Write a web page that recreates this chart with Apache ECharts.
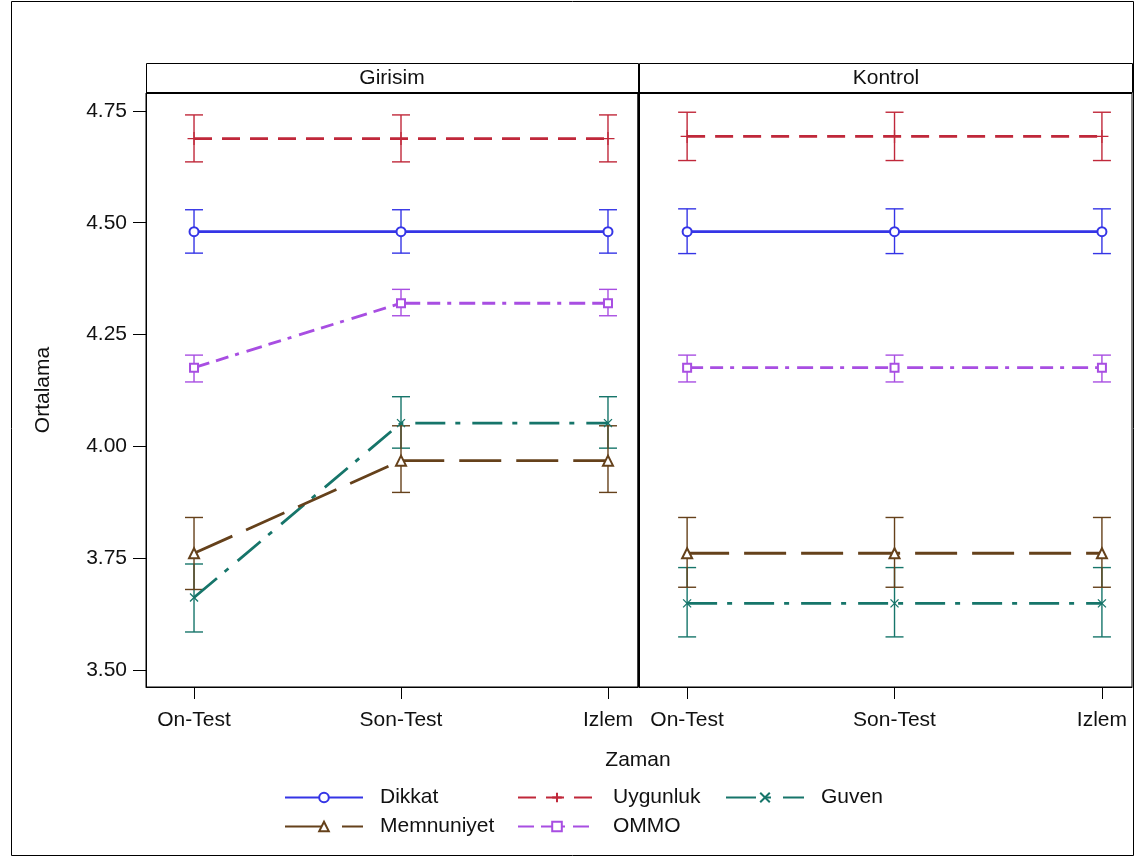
<!DOCTYPE html>
<html>
<head>
<meta charset="utf-8">
<script src="https://cdn.jsdelivr.net/npm/echarts@6/dist/echarts.min.js"></script>
<style>
  html, body { margin: 0; padding: 0; background: #fff; }
  #main { width: 1136px; height: 858px; }
</style>
</head>
<body>
<div id="main"></div>
<script>
var categories = ['On-Test', 'Son-Test', 'Izlem'];
var panels = ['Girisim', 'Kontrol'];
var groups = ['Dikkat', 'Uygunluk', 'Guven', 'Memnuniyet', 'OMMO'];
var yTicks = [3.5, 3.75, 4.0, 4.25, 4.5, 4.75];

// rows follow groups order
var girisimMean = [
    [4.480, 4.480, 4.480],
    [4.688, 4.688, 4.688],
    [3.662, 4.052, 4.052],
    [3.761, 3.968, 3.968],
    [4.176, 4.320, 4.320]
];
var girisimLower = [
    [4.432, 4.432, 4.432],
    [4.636, 4.636, 4.636],
    [3.585, 3.996, 3.996],
    [3.680, 3.897, 3.897],
    [4.144, 4.292, 4.292]
];
var girisimUpper = [
    [4.529, 4.529, 4.529],
    [4.741, 4.741, 4.741],
    [3.737, 4.111, 4.111],
    [3.841, 4.046, 4.046],
    [4.204, 4.351, 4.351]
];
var kontrolMean = [
    [4.480, 4.480, 4.480],
    [4.693, 4.693, 4.693],
    [3.649, 3.649, 3.649],
    [3.761, 3.761, 3.761],
    [4.176, 4.176, 4.176]
];
var kontrolLower = [
    [4.431, 4.431, 4.431],
    [4.639, 4.639, 4.639],
    [3.574, 3.574, 3.574],
    [3.685, 3.685, 3.685],
    [4.144, 4.144, 4.144]
];
var kontrolUpper = [
    [4.531, 4.531, 4.531],
    [4.747, 4.747, 4.747],
    [3.729, 3.729, 3.729],
    [3.841, 3.841, 3.841],
    [4.204, 4.204, 4.204]
];

var colors = ['#3535e6', '#c0283a', '#16756a', '#65411b', '#a84ee2'];
var dashes = ['solid', [18, 10], [30, 10, 5, 12], [42, 15], [16, 7, 13, 7, 4, 8]];
var symbols = [
    'emptyCircle',
    'path://M0,5L10,5M5,0L5,10',
    'path://M0,0L10,10M10,0L0,10',
    'emptyTriangle',
    'emptyRect'
];
var symbolSizes = [9, 13, 8, 10, 8];

var FONT = "'Liberation Sans', Arial, sans-serif";

var chartDom = document.getElementById('main');
var myChart = echarts.init(chartDom);
var option;

var means = [girisimMean, kontrolMean];
var lowers = [girisimLower, kontrolLower];
var uppers = [girisimUpper, kontrolUpper];

var lineSeries = [];
var barSeries = [];
panels.forEach(function (p, pi) {
    groups.forEach(function (g, gi) {
        lineSeries.push({
            name: g,
            type: 'line',
            xAxisIndex: pi,
            yAxisIndex: pi,
            z: 3,
            data: means[pi][gi].map(function (v, i) { return [i, v]; }),
            symbol: symbols[gi],
            symbolSize: symbolSizes[gi],
            showAllSymbol: true,
            lineStyle: { color: colors[gi], width: 2.8, type: dashes[gi] },
            itemStyle: { color: colors[gi], borderColor: colors[gi], borderWidth: 1.3 },
            emphasis: { disabled: true },
            animation: false
        });
        barSeries.push({
            name: g,
            type: 'custom',
            xAxisIndex: pi,
            yAxisIndex: pi,
            z: 2,
            data: means[pi][gi].map(function (v, i) { return [i, lowers[pi][gi][i], uppers[pi][gi][i]]; }),
            encode: { x: 0, y: [1, 2] },
            renderItem: function (params, api) {
                var lo = api.coord([api.value(0), api.value(1)]);
                var hi = api.coord([api.value(0), api.value(2)]);
                var w = 9;
                var st = { stroke: colors[gi], lineWidth: 1.4 };
                return {
                    type: 'group',
                    children: [
                        { type: 'line', shape: { x1: lo[0], y1: lo[1], x2: hi[0], y2: hi[1] }, style: st },
                        { type: 'line', shape: { x1: lo[0] - w, y1: lo[1], x2: lo[0] + w, y2: lo[1] }, style: st },
                        { type: 'line', shape: { x1: hi[0] - w, y1: hi[1], x2: hi[0] + w, y2: hi[1] }, style: st }
                    ]
                };
            },
            animation: false
        });
    });
});

function xAxisFor(i) {
    return {
        type: 'value',
        gridIndex: i,
        min: -0.232,
        max: 2.145,
        splitLine: { show: false },
        axisLine: { show: true, onZero: false, lineStyle: { color: '#000', width: 1 } },
        axisTick: { show: true, length: 12, customValues: [0, 1, 2], lineStyle: { color: '#000' } },
        axisLabel: {
            customValues: [0, 1, 2],
            margin: 23,
            fontSize: 21,
            fontFamily: FONT,
            color: '#111',
            formatter: function (v) { return categories[Math.round(v)]; }
        }
    };
}

function yAxisFor(i) {
    return {
        type: 'value',
        gridIndex: i,
        min: 3.462,
        max: 4.790,
        splitLine: { show: false },
        axisLine: { show: true, onZero: false, lineStyle: { color: '#000', width: 1 } },
        axisTick: { show: i === 0, length: 13, customValues: yTicks, lineStyle: { color: '#000' } },
        axisLabel: {
            show: i === 0,
            customValues: yTicks,
            margin: 19,
            fontSize: 21,
            fontFamily: FONT,
            color: '#111',
            formatter: function (v) { return v.toFixed(2); }
        }
    };
}

var legendText = { fontSize: 21, fontFamily: FONT, color: '#111', padding: [0, 0, 0, 12] };

option = {
    backgroundColor: '#fff',
    animation: false,
    grid: [
        { left: 146, top: 93, width: 492, height: 594, show: true, borderColor: '#000', borderWidth: 1, containLabel: false },
        { left: 639, top: 93, width: 493, height: 594, show: true, borderColor: '#000', borderWidth: 1, containLabel: false }
    ],
    xAxis: [xAxisFor(0), xAxisFor(1)],
    yAxis: [yAxisFor(0), yAxisFor(1)],
    legend: [
        { data: ['Dikkat', 'Memnuniyet'], left: 279, top: 782, orient: 'vertical', itemWidth: 78, itemHeight: 12, itemGap: 8, textStyle: legendText },
        { data: ['Uygunluk', 'OMMO'], left: 512, top: 782, orient: 'vertical', itemWidth: 78, itemHeight: 12, itemGap: 8, textStyle: legendText },
        { data: ['Guven'], left: 720, top: 782, orient: 'vertical', itemWidth: 78, itemHeight: 12, itemGap: 8, textStyle: legendText }
    ],
    graphic: [
        { type: 'rect', shape: { x: 11.5, y: 1.5, width: 1122, height: 854 }, style: { fill: 'none', stroke: '#000', lineWidth: 1 }, silent: true },
        { type: 'rect', shape: { x: 146.5, y: 63.5, width: 492, height: 29 }, style: { fill: '#fff', stroke: '#000', lineWidth: 1 }, silent: true },
        { type: 'rect', shape: { x: 639.5, y: 63.5, width: 493, height: 29 }, style: { fill: '#fff', stroke: '#000', lineWidth: 1 }, silent: true },
        { type: 'line', shape: { x1: 146, y1: 93, x2: 1132, y2: 93 }, style: { stroke: '#000', lineWidth: 2 }, silent: true },
        { type: 'line', shape: { x1: 638.5, y1: 93, x2: 638.5, y2: 687 }, style: { stroke: '#000', lineWidth: 2 }, silent: true },
        { type: 'text', x: 392, y: 78, style: { text: panels[0], font: '21px ' + FONT, fill: '#111', align: 'center', verticalAlign: 'middle' } },
        { type: 'text', x: 886, y: 78, style: { text: panels[1], font: '21px ' + FONT, fill: '#111', align: 'center', verticalAlign: 'middle' } },
        { type: 'text', x: 638, y: 760, style: { text: 'Zaman', font: '21px ' + FONT, fill: '#111', align: 'center', verticalAlign: 'middle' } },
        { type: 'text', x: 43, y: 390, rotation: Math.PI / 2, style: { text: 'Ortalama', font: '21px ' + FONT, fill: '#111', align: 'center', verticalAlign: 'middle' } }
    ],
    series: lineSeries.concat(barSeries)
};

option && myChart.setOption(option);
</script>
</body>
</html>
